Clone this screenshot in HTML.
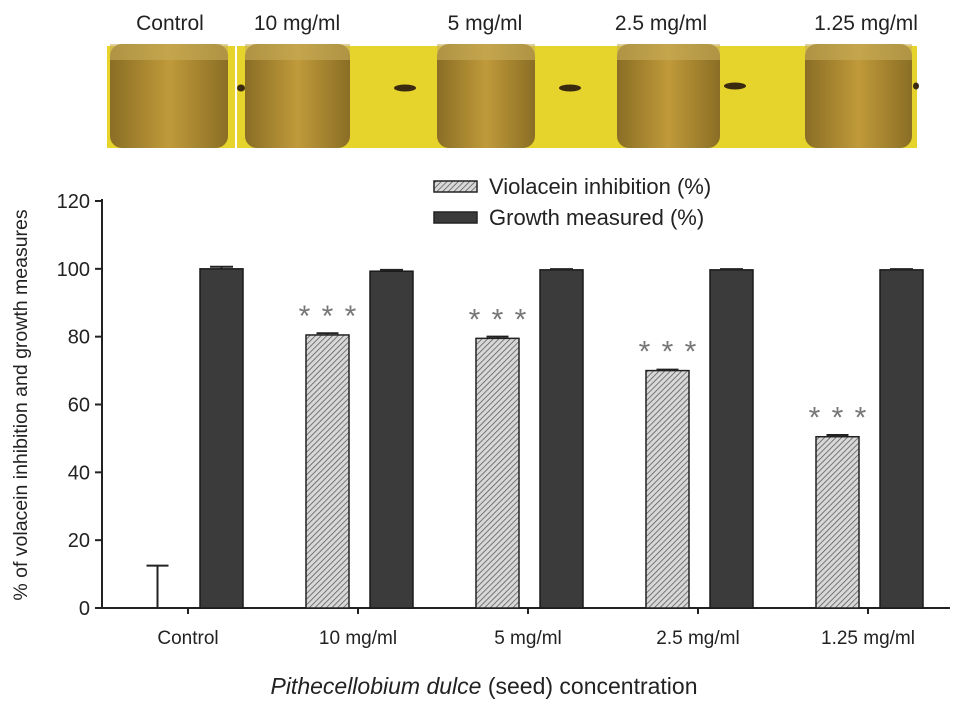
<!DOCTYPE html>
<html><head><meta charset="utf-8"><style>
body{margin:0;background:#fff;width:969px;height:715px;overflow:hidden;font-family:"Liberation Sans",sans-serif}
</style></head><body>
<svg width="969" height="715" xmlns="http://www.w3.org/2000/svg" font-family="Liberation Sans, sans-serif">
<defs>
<pattern id="hatch" width="4" height="4" patternUnits="userSpaceOnUse" patternTransform="rotate(45)">
<rect width="4" height="4" fill="#d8d8d8"/><line x1="0" y1="0" x2="0" y2="4" stroke="#555" stroke-width="1.5"/></pattern>
<linearGradient id="tube" x1="0" x2="1"><stop offset="0" stop-color="#8a6e25"/><stop offset="0.5" stop-color="#c09a3a"/><stop offset="1" stop-color="#8a6e25"/></linearGradient>
</defs>
<g id="photo"></g>
<g id="plot"></g>
<g>
<rect x="434" y="181" width="43" height="11" fill="url(#hatch)" stroke="#222" stroke-width="1.5"/>
<text x="489" y="194" font-size="22" fill="#222">Violacein inhibition (%)</text>
<rect x="434" y="212" width="43" height="11" fill="#3b3b3b" stroke="#222" stroke-width="1.5"/>
<text x="489" y="225" font-size="22" fill="#222">Growth measured (%)</text>
</g>
<text transform="translate(27,405) rotate(-90)" text-anchor="middle" font-size="19.5" fill="#222">% of volacein inhibition and growth measures</text>
<text x="484" y="694" text-anchor="middle" font-size="23" fill="#222"><tspan font-style="italic">Pithecellobium dulce</tspan> (seed) concentration</text>
</svg>
<script>
const categories=["Control","10 mg/ml","5 mg/ml","2.5 mg/ml","1.25 mg/ml"];
const violacein=[0,80.5,79.5,70,50.5];
const violaceinErr=[12.5,0.5,0.5,0.3,0.5];
const growth=[100,99.3,99.7,99.7,99.7];
const growthErr=[0.6,0.4,0.2,0.2,0.2];
const yTicks=[0,20,40,60,80,100,120];
const photoLabels=["Control","10 mg/ml","5 mg/ml","2.5 mg/ml","1.25 mg/ml"];
const NS="http://www.w3.org/2000/svg";
const y=v=>608-v*(407/120);
const xc=i=>188+i*170;
function mk(t,a,p){const e=document.createElementNS(NS,t);for(const k in a)e.setAttribute(k,a[k]);p.appendChild(e);return e;}
const plot=document.getElementById('plot');
let ax=mk('line',{x1:102,y1:199,x2:102,y2:609,stroke:'#222','stroke-width':2},plot);


let bx=mk('line',{x1:101,y1:608,x2:950,y2:608,stroke:'#222','stroke-width':2},plot);


yTicks.forEach(v=>{
 mk('line',{x1:95,y1:y(v),x2:102,y2:y(v),stroke:'#222','stroke-width':2},plot);
 const t=mk('text',{x:90,y:y(v)+7,'text-anchor':'end','font-size':20,fill:'#222'},plot);t.textContent=v;
 
 
});
categories.forEach((c,i)=>{
 const cx=xc(i);
 mk('line',{x1:cx,y1:608,x2:cx,y2:614,stroke:'#222','stroke-width':2},plot);
 const t=mk('text',{x:cx,y:644,'text-anchor':'middle','font-size':19,fill:'#222'},plot);t.textContent=c;
 
 
 const vx=cx-52, gx=cx+12;
 if(violacein[i]>0){
  const b=mk('rect',{x:vx,y:y(violacein[i]),width:43,height:608-y(violacein[i]),fill:'url(#hatch)',stroke:'#222','stroke-width':1.5},plot);
  
  
  const sg=mk('g',{},plot);
  
  
  [-23,0,23].forEach(o=>{const s=mk('text',{x:vx+21.5+o,y:y(violacein[i])-9,'text-anchor':'middle','font-size':30,fill:'#777'},sg);s.textContent='*';});
 }
 const ex=vx+21.5, top=y(violacein[i]+violaceinErr[i]);
 const e=mk('path',{d:`M${ex},${y(violacein[i])}V${top}M${ex-11},${top}H${ex+11}`,stroke:'#222','stroke-width':2,fill:'none'},plot);
 
 
 const g=mk('rect',{x:gx,y:y(growth[i]),width:43,height:608-y(growth[i]),fill:'#3b3b3b',stroke:'#1a1a1a','stroke-width':1.5},plot);
 
 
 const gt=y(growth[i]+growthErr[i]);
 const ge=mk('path',{d:`M${gx+21.5},${y(growth[i])}V${gt}M${gx+10},${gt}H${gx+33}`,stroke:'#222','stroke-width':2,fill:'none'},plot);
 
 
});
const ph=document.getElementById('photo');
mk('rect',{x:107,y:46,width:810,height:102,fill:'#e6d42c'},ph);
const tubeX=[110,245,437,617,805], tubeW=[118,105,98,103,107];
const labelX=[170,297,485,661,866];
tubeX.forEach((tx,i)=>{
 mk('rect',{x:tx,y:44,width:tubeW[i],height:104,rx:12,fill:'url(#tube)'},ph);
 mk('rect',{x:tx,y:44,width:tubeW[i],height:16,fill:'#c8ae5a',opacity:0.6},ph);
 const t=mk('text',{x:labelX[i],y:30,'text-anchor':'middle','font-size':21,fill:'#222'},ph);
 t.textContent=photoLabels[i];
 
 
});
[[241,88,4],[405,88,11],[570,88,11],[735,86,11],[916,86,3]].forEach(([x,yy,r])=>mk('ellipse',{cx:x,cy:yy,rx:r,ry:3.5,fill:'#3a2a10'},ph));
mk('line',{x1:236,x2:236,y1:44,y2:148,stroke:'#fff','stroke-width':2},ph);
</script>
</body></html>
